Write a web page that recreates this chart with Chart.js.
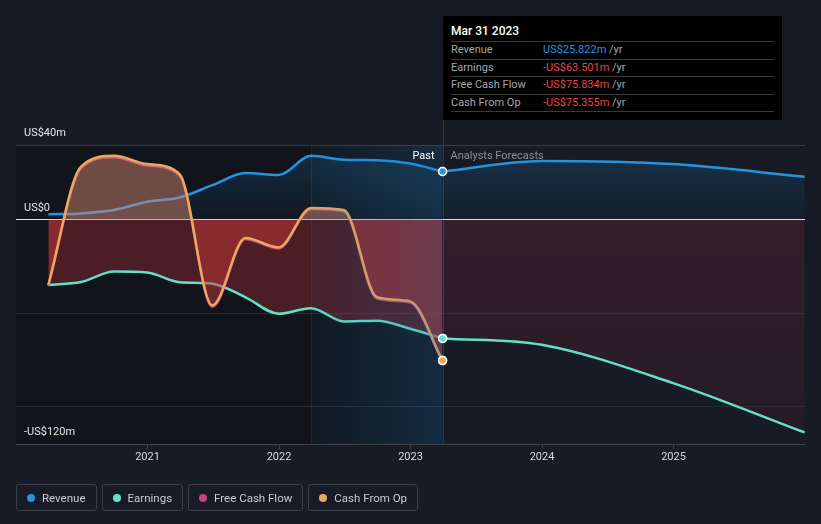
<!DOCTYPE html>
<html>
<head>
<meta charset="utf-8">
<script src="https://cdn.jsdelivr.net/npm/chart.js@4"></script>
<style>
    html, body { margin: 0; padding: 0; background: #161b25; }
    body { width: 821px; height: 524px; position: relative; overflow: hidden; font-family: Roboto, "Noto Sans", sans-serif; }
    #chart { position: absolute; left: 0; top: 0; }
    .tip { position: absolute; left: 443px; top: 16px; width: 339px; height: 104px; background: #000; }
    .tip-title { position: absolute; left: 8px; top: 8px; font-size: 12px; font-weight: 500; color: #fff; line-height: 14px; }
    .tip-rows { position: absolute; left: 8px; top: 25px; width: 323px; border-bottom: 1px solid #3a3a3a; }
    .tip-row { height: 17.5px; box-sizing: border-box; border-top: 1px solid #3a3a3a; font-size: 11px; line-height: 16px; color: #a3a7ae; position: relative; }
    .tip-row .val { position: absolute; left: 92px; top: 0; }
    .legend { position: absolute; left: 16px; top: 484px; display: flex; gap: 5px; }
    .legend div { height: 27px; box-sizing: border-box; border: 1px solid #3a3f4a; border-radius: 3px; padding: 0 10px 0 10px; display: flex; align-items: center; font-size: 11.5px; color: #c9ccd2; }
    .legend span.dot { width: 8px; height: 8px; border-radius: 50%; margin-right: 7px; display: inline-block; }
</style>
</head>
<body>
<canvas id="chart" width="821" height="524"></canvas>
<div class="tip">
    <div class="tip-title" id="tipTitle"></div>
    <div class="tip-rows" id="tipRows"></div>
</div>
<div class="legend" id="legend"></div>
<script>
// quarterly history (trailing twelve months)
const pastDates = ["2020-03-31", "2020-06-30", "2020-09-30", "2020-12-31", "2021-03-31", "2021-06-30",
    "2021-09-30", "2021-12-31", "2022-03-31", "2022-06-30", "2022-09-30", "2022-12-31", "2023-03-31"];
const revenuePast = [2.9, 3.4, 5.2, 9.6, 11.9, 18.5, 25.0, 23.9, 34.2, 32.1, 31.9, 30.1, 25.822];
const earningsPast = [-34.9, -33.3, -27.7, -28.2, -33.4, -34.2, -41.5, -50.3, -47.3, -54.4, -54.0, -58.3, -63.501];
const fcfPast = [-35.3, 27.6, 33.5, 29.0, 23.6, -46.6, -10.4, -15.4, 5.8, 4.6, -42.2, -44.3, -75.834];
const cashOpPast = [-34.8, 28.4, 34.2, 29.8, 24.4, -45.8, -9.8, -14.8, 6.3, 5.2, -41.5, -43.7, -75.355];

// analyst forecasts
const forecastDates = ["2023-03-31", "2023-12-31", "2024-12-31", "2025-12-31"];
const revenueForecast = [25.822, 31.5, 29.8, 23.0];
const earningsForecast = [-63.501, -66.9, -87.4, -113.8];

const xTickYears = [2021, 2022, 2023, 2024, 2025];
const yGridValues = [40, 0, -50, -100];
const yLabelValues = [40, 0, -120];
const yLabelText = ["US$40m", "US$0", "-US$120m"];

const seriesNames = ["Revenue", "Earnings", "Free Cash Flow", "Cash From Op"];
const seriesColors = ["#2394e0", "#63e0c8", "#c6417e", "#e8aa5e"];

const highlightStart = "2022-03-31";

function toYear(s) {
    const d = new Date(s + "T00:00:00Z");
    const y = d.getUTCFullYear();
    const a = Date.UTC(y, 0, 1), b = Date.UTC(y + 1, 0, 1);
    return y + (d.getTime() - a) / (b - a);
}

function points(dates, values) {
    return dates.map((d, i) => ({ x: toYear(d), y: values[i] }));
}

function money(v) {
    return (v < 0 ? "-" : "") + "US$" + Math.abs(v).toFixed(3) + "m";
}

const pastEnd = toYear(pastDates[pastDates.length - 1]);
const hlStart = toYear(highlightStart);

function revenueFill(c) {
    const chart = c.chart;
    if (!chart.chartArea) return "rgba(35,148,224,0.12)";
    const y = chart.scales.y;
    const g = chart.ctx.createLinearGradient(0, y.getPixelForValue(40), 0, y.getPixelForValue(0));
    g.addColorStop(0, "rgba(35,148,224,0.2)");
    g.addColorStop(1, "rgba(35,148,224,0.03)");
    return g;
}

function earningsForecastFill(c) {
    const chart = c.chart;
    if (!chart.chartArea) return "rgba(150,40,60,0.2)";
    const y = chart.scales.y;
    const g = chart.ctx.createLinearGradient(0, y.getPixelForValue(0), 0, y.getPixelForValue(-120));
    g.addColorStop(0, "rgba(160,40,60,0.22)");
    g.addColorStop(1, "rgba(160,40,60,0.1)");
    return g;
}

const lastDot = c => c.dataIndex === c.dataset.data.length - 1 ? 4 : 0;

function lineSet(label, data, color, extra) {
    return Object.assign({
        label: label,
        data: data,
        borderColor: color,
        borderWidth: 2.5,
        cubicInterpolationMode: "monotone",
        pointRadius: 0,
        pointHoverRadius: 0,
        pointBackgroundColor: color,
        pointBorderColor: "#ffffff",
        pointBorderWidth: 1.5,
        fill: false
    }, extra);
}

// shaded backgrounds behind the plot
const regionsPlugin = {
    id: "regions",
    beforeDraw(chart) {
        const { ctx, chartArea: a, scales: { x } } = chart;
        ctx.save();
        ctx.fillStyle = "#11141b";
        const xe = x.getPixelForValue(pastEnd);
        ctx.fillRect(a.left, a.top, xe - a.left, a.bottom - a.top);
        ctx.restore();
    }
};

// last-year highlight, drawn over the lines
const overlayPlugin = {
    id: "overlay",
    afterDatasetsDraw(chart) {
        const { ctx, chartArea: a, scales: { x } } = chart;
        const x0 = x.getPixelForValue(hlStart), x1 = x.getPixelForValue(pastEnd);
        ctx.save();
        const g = ctx.createLinearGradient(x0, 0, x1, 0);
        g.addColorStop(0, "rgba(30,110,170,0.05)");
        g.addColorStop(1, "rgba(30,110,170,0.26)");
        ctx.fillStyle = g;
        ctx.fillRect(x0, a.top, x1 - x0, a.bottom - a.top);
        ctx.lineWidth = 1;
        ctx.strokeStyle = "rgba(120,160,200,0.12)";
        ctx.beginPath();
        ctx.moveTo(Math.round(x0) + 0.5, a.top);
        ctx.lineTo(Math.round(x0) + 0.5, a.bottom);
        ctx.stroke();
        ctx.strokeStyle = "rgba(120,160,200,0.2)";
        ctx.beginPath();
        ctx.moveTo(Math.round(x1) + 0.5, 120);
        ctx.lineTo(Math.round(x1) + 0.5, a.bottom);
        ctx.stroke();
        ctx.restore();
        chart.data.datasets.forEach((ds, i) => {
            if (!ds.pastDot) return;
            const meta = chart.getDatasetMeta(i);
            meta.data[meta.data.length - 1].draw(ctx, a);
        });
    }
};

const labelsPlugin = {
    id: "labels",
    afterDraw(chart) {
        const { ctx, chartArea: a, scales: { x, y } } = chart;
        ctx.save();
        ctx.font = "11px Roboto";
        ctx.textBaseline = "middle";
        ctx.fillStyle = "#e2e4e8";
        yLabelValues.forEach((v, i) => {
            ctx.fillText(yLabelText[i], 24, y.getPixelForValue(v) - 12);
        });
        const xb = x.getPixelForValue(pastEnd);
        ctx.textAlign = "right";
        ctx.fillStyle = "#ffffff";
        ctx.fillText("Past", xb - 8, a.top + 11);
        ctx.textAlign = "left";
        ctx.fillStyle = "#8b9099";
        ctx.fillText("Analysts Forecasts", xb + 8, a.top + 11);
        ctx.restore();
    }
};

const ctx = document.getElementById("chart").getContext("2d");
new Chart(ctx, {
    type: "line",
    data: {
        datasets: [
            lineSet("Cash From Op", points(pastDates, cashOpPast), seriesColors[3], {
                order: 1, pointRadius: lastDot, pastDot: true,
                fill: { target: "origin", above: "rgba(215,135,115,0.48)", below: "rgba(200,55,58,0.5)" }
            }),
            lineSet("Free Cash Flow", points(pastDates, fcfPast), seriesColors[2], { order: 2 }),
            lineSet("Earnings", points(pastDates, earningsPast), seriesColors[1], {
                order: 3, pointRadius: lastDot, pastDot: true,
                fill: "origin", backgroundColor: "rgba(200,50,60,0.32)"
            }),
            lineSet("Revenue", points(pastDates, revenuePast), seriesColors[0], {
                order: 4, pointRadius: lastDot, pastDot: true,
                fill: "origin", backgroundColor: revenueFill
            }),
            lineSet("Earnings forecast", points(forecastDates, earningsForecast), seriesColors[1], {
                order: 5, fill: "origin", backgroundColor: earningsForecastFill
            }),
            lineSet("Revenue forecast", points(forecastDates, revenueForecast), seriesColors[0], {
                order: 6, fill: "origin", backgroundColor: revenueFill
            })
        ]
    },
    options: {
        responsive: false,
        animation: false,
        devicePixelRatio: 1,
        layout: { padding: { left: 16, right: 16, top: 145, bottom: 50 } },
        plugins: { legend: { display: false }, tooltip: { enabled: false } },
        scales: {
            x: {
                type: "linear",
                min: 2020,
                max: 2026,
                afterBuildTicks: s => { s.ticks = xTickYears.map(v => ({ value: v })); },
                afterFit: s => { s.height = 30; },
                grid: { drawOnChartArea: false, drawTicks: true, tickLength: 5, color: "#3d424c" },
                border: { color: "#3d424c" },
                ticks: {
                    font: { family: "Roboto", size: 11 },
                    color: "#d9dbe0",
                    padding: 2,
                    maxRotation: 0,
                    callback: v => String(v)
                }
            },
            y: {
                min: -120,
                max: 40,
                afterBuildTicks: s => { s.ticks = yGridValues.map(v => ({ value: v })); },
                afterFit: s => { s.width = 0; },
                grid: {
                    drawTicks: false,
                    color: c => c.tick.value === 0 ? "#e8e8ea" : (c.tick.value === 40 ? "#343944" : "#262b34")
                },
                border: { display: false },
                ticks: { display: false }
            }
        }
    },
    plugins: [regionsPlugin, overlayPlugin, labelsPlugin]
});

// tooltip box for the last reported quarter
const lastVals = [revenuePast, earningsPast, fcfPast, cashOpPast].map(a => a[a.length - 1]);
const lastDate = new Date(pastDates[pastDates.length - 1] + "T00:00:00Z");
const months = ["Jan", "Feb", "Mar", "Apr", "May", "Jun", "Jul", "Aug", "Sep", "Oct", "Nov", "Dec"];
document.getElementById("tipTitle").textContent =
    months[lastDate.getUTCMonth()] + " " + lastDate.getUTCDate() + " " + lastDate.getUTCFullYear();
const rows = document.getElementById("tipRows");
seriesNames.forEach((name, i) => {
    const row = document.createElement("div");
    row.className = "tip-row";
    const col = lastVals[i] < 0 ? "#e84545" : "#2394e0";
    row.innerHTML = name + '<span class="val"><span style="color:' + col + '">' + money(lastVals[i]) + "</span> /yr</span>";
    rows.appendChild(row);
});

const legend = document.getElementById("legend");
seriesNames.forEach((name, i) => {
    const item = document.createElement("div");
    item.innerHTML = '<span class="dot" style="background:' + seriesColors[i] + '"></span>' + name;
    legend.appendChild(item);
});
</script>
</body>
</html>
